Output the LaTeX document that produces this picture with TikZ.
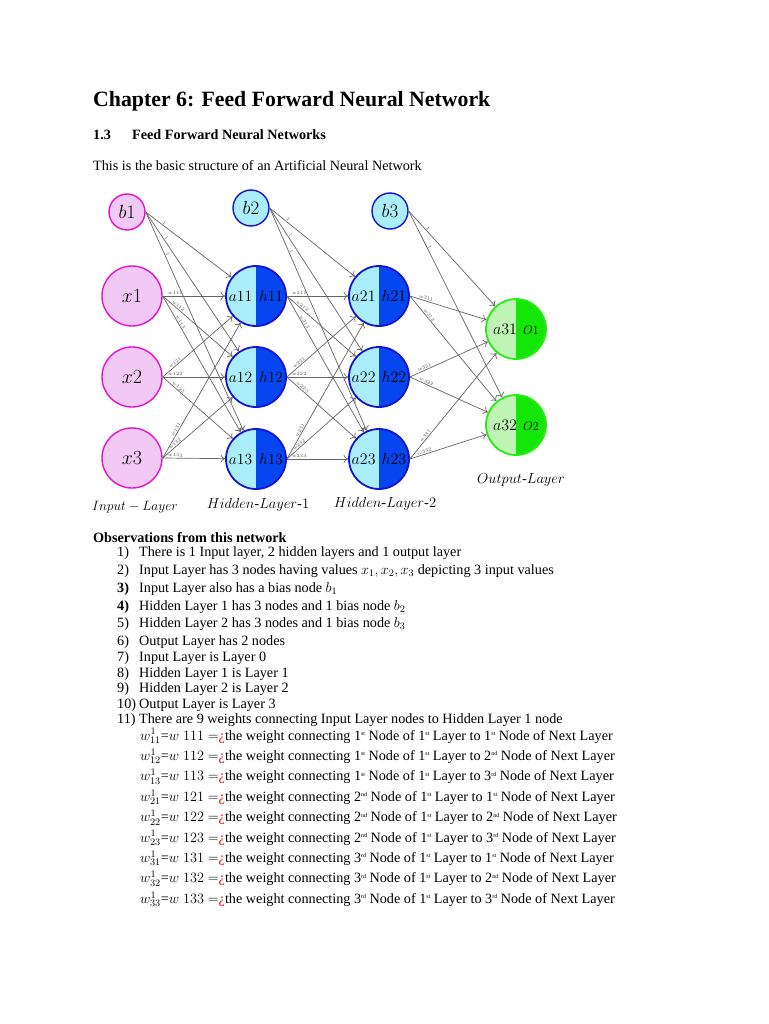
\RequirePackage{fix-cm}
\documentclass[tikz,border=0pt]{standalone}
\usepackage{amsmath}
\usepackage[no-math]{fontspec}
\setmainfont{Liberation Serif}
\usepackage{xcolor}
\usetikzlibrary{arrows.meta,positioning}

\definecolor{inmag}{RGB}{230,20,200}
\definecolor{inpink}{RGB}{242,200,245}
\definecolor{hidrim}{RGB}{20,20,215}
\definecolor{hidfill}{RGB}{170,238,250}
\definecolor{hidblue}{RGB}{5,70,240}
\definecolor{outrim}{RGB}{40,235,20}
\definecolor{outfill}{RGB}{190,245,180}
\definecolor{outgreen}{RGB}{20,230,10}
\definecolor{edgegray}{RGB}{100,100,100}

\newcommand{\ordx}[1]{\raisebox{0.7ex}{\fontsize{6}{6}\selectfont #1}}

\begin{document}
\begin{tikzpicture}[x=1pt,y=-1pt,
  innode/.style={
    circle, draw=inmag, line width=1.4pt, fill=inpink,
    minimum size=60pt, inner sep=0pt, font=\fontsize{20}{20}\selectfont
  },
  biasin/.style={innode, minimum size=36pt, font=\fontsize{19}{19}\selectfont},
  biashid/.style={biasin, draw=hidrim, fill=hidfill},
  hidnode/.style={
    circle, draw=hidrim, line width=1.8pt, fill=hidfill,
    minimum size=60pt, inner sep=0pt, font=\fontsize{15.5}{15.5}\selectfont,
    path picture={\fill[hidblue] (path picture bounding box.north)
      rectangle (path picture bounding box.south east);}
  },
  outnode/.style={
    hidnode, draw=outrim, fill=outfill,
    path picture={\fill[outgreen] (path picture bounding box.north)
      rectangle (path picture bounding box.south east);}
  },
  arr/.style={-{To[length=4.5pt,width=8pt]}, draw=edgegray, line width=0.7pt},
  wlab/.style={sloped, above, pos=0.2, inner sep=0.8pt,
    font=\fontsize{4.8}{4.8}\selectfont, text=black!70},
  laylab/.style={font=\fontsize{14.5}{14.5}\selectfont},
  txt/.style={anchor=base west, inner sep=0pt, font=\fontsize{14.2}{16}\selectfont},
]
\useasboundingbox (0,0) rectangle (768,1024);

%% ── Headings ─────────────────────────────────────────────────────────────────
\node[txt, font=\fontsize{21.8}{26}\selectfont\bfseries] (title) at (93,107)
  {Chapter 6: Feed Forward Neural Network};
\node[txt, font=\fontsize{14.2}{16}\selectfont\bfseries] (secno) at (93,140) {1.3};
\node[txt, font=\fontsize{14.2}{16}\selectfont\bfseries] (sec) at (132,140)
  {Feed Forward Neural Networks};
\node[txt] (intro) at (93,171) {This is the basic structure of an Artificial Neural Network};

%% ── Input layer ──────────────────────────────────────────────────────────────
\node[biasin] (b1) at (127,212) {$b1$};
\node[innode] (x1) at (132,296) {$x1$};
\node[innode] (x2) at (132,377) {$x2$};
\node[innode] (x3) at (132,458) {$x3$};

%% ── Hidden layers ────────────────────────────────────────────────────────────
\node[biashid] (b2) at (251,208) {$b2$};
\node[hidnode] (ha1) at (256,296) {$a11$\hspace{7pt}$h11$};
\node[hidnode] (ha2) at (256,377) {$a12$\hspace{7pt}$h12$};
\node[hidnode] (ha3) at (256,459) {$a13$\hspace{7pt}$h13$};

\node[biashid] (b3) at (390,211) {$b3$};
\node[hidnode, font=\fontsize{16}{16}\selectfont] (hb1) at (379,296) {$a21$\hspace{6pt}$h21$};
\node[hidnode, font=\fontsize{16}{16}\selectfont] (hb2) at (379,377) {$a22$\hspace{6pt}$h22$};
\node[hidnode, font=\fontsize{16}{16}\selectfont] (hb3) at (379,459) {$a23$\hspace{6pt}$h23$};

%% ── Output layer ─────────────────────────────────────────────────────────────
\node[outnode, font=\fontsize{16}{16}\selectfont] (o1) at (516,329)
  {$a31$\hspace{6pt}{\fontsize{12.5}{12.5}\selectfont$O1$}};
\node[outnode, font=\fontsize{16}{16}\selectfont] (o2) at (516,425)
  {$a32$\hspace{6pt}{\fontsize{12.5}{12.5}\selectfont$O2$}};

%% ── Layer names ──────────────────────────────────────────────────────────────
\node[laylab, font=\fontsize{13.5}{13.5}\selectfont] (inlab) at (135,507) {$Input-Layer$};
\node[laylab] (hid1lab) at (258,505) {$Hidden\text{-}Layer\text{-}1$};
\node[laylab] (hid2lab) at (385,504) {$Hidden\text{-}Layer\text{-}2$};
\node[laylab] (outlab)  at (521,480) {$Output\text{-}Layer$};

%% ── Edges ────────────────────────────────────────────────────────────────────
\foreach \j in {1,2,3} {
  \draw[arr] (b1.east) -- node[wlab] {$1$} (ha\j);
  \draw[arr] (b2.east) -- node[wlab] {$1$} (hb\j);
}
\foreach \j in {1,2}
  \draw[arr] (b3.east) -- node[wlab] {$1$} (o\j);

\foreach \i in {1,2,3}
  \foreach \j in {1,2,3} {
    \draw[arr] (x\i.east)  -- node[wlab] {$w1\i\j$} (ha\j);
    \draw[arr] (ha\i.east) -- node[wlab] {$w2\i\j$} (hb\j);
  }
\foreach \i in {1,2,3}
  \foreach \j in {1,2}
    \draw[arr] (hb\i.east) -- node[wlab] {$w3\i\j$} (o\j);

%% ── Observations ─────────────────────────────────────────────────────────────
\node[txt, font=\fontsize{14.2}{16}\selectfont\bfseries] (obs) at (93,542)
  {Observations from this network};
\foreach \n/\y/\t [count=\k] in {
    1)/556/{There is 1 Input layer, 2 hidden layers and 1 output layer},
    2)/574/{Input Layer has 3 nodes having values $x_1, x_2, x_3$ depicting 3 input values},
    \textbf{3)}/592/{Input Layer also has a bias node $b_1$},
    \textbf{4)}/610/{Hidden Layer 1 has 3 nodes and 1 bias node $b_2$},
    5)/627/{Hidden Layer 2 has 3 nodes and 1 bias node $b_3$},
    6)/645/{Output Layer has 2 nodes},
    7)/661/{Input Layer is Layer 0},
    8)/677/{Hidden Layer 1 is Layer 1},
    9)/692/{Hidden Layer 2 is Layer 2},
    10)/708/{Output Layer is Layer 3},
    11)/723/{There are 9 weights connecting Input Layer nodes to Hidden Layer 1 node}} {
  \node[txt] (num\k) at (117,\y) {\n};
  \node[txt] (item\k) at (139,\y) {\t};
}

%% ── Weight lines ─────────────────────────────────────────────────────────────
\foreach \i/\si in {1/st,2/nd,3/rd}
  \foreach \j/\sj in {1/st,2/nd,3/rd} {
    \pgfmathsetmacro{\wy}{740+20.4*(3*(\i-1)+\j-1)}
    \node[txt] (wl\i\j) at (140,\wy)
      {$w^{1}_{\i\j}$=$w\;1\i\j=${\color{red}¿}the weight connecting \i\ordx{\si} Node of
       1\ordx{st} Layer to \j\ordx{\sj} Node of Next Layer};
  }

\end{tikzpicture}
\end{document}
